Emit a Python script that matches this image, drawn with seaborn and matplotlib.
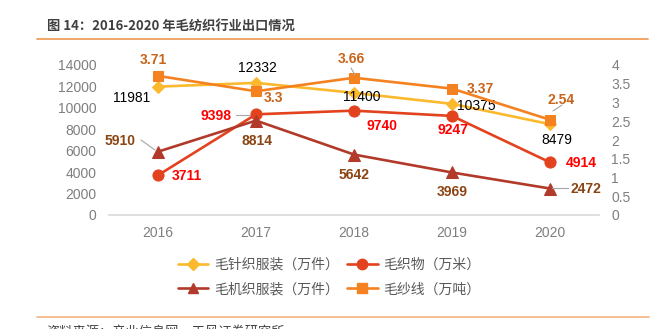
import matplotlib
matplotlib.use("Agg")
import matplotlib.pyplot as plt
from matplotlib.lines import Line2D
import seaborn as sns
import pandas as pd

years = [2016, 2017, 2018, 2019, 2020]
knit_apparel = [11981, 12332, 11400, 10375, 8479]      # 毛针织服装（万件）
wool_fabric = [3711, 9398, 9740, 9247, 4914]           # 毛织物（万米）
woven_apparel = [5910, 8814, 5642, 3969, 2472]         # 毛机织服装（万件）
wool_yarn = [3.71, 3.3, 3.66, 3.37, 2.54]              # 毛纱线（万吨）

names = ["毛针织服装（万件）", "毛织物（万米）", "毛机织服装（万件）", "毛纱线（万吨）"]
left_ticks = [0, 2000, 4000, 6000, 8000, 10000, 12000, 14000]
right_ticks = [0, 0.5, 1, 1.5, 2, 2.5, 3, 3.5, 4]
right_labels = ["0", "0.5", "1", "1.5", "2", "2.5", "3", "3.5", "4"]

sns.set_theme(style="white")
plt.rcParams["font.family"] = ["Liberation Sans", "Noto Sans CJK SC", "DejaVu Sans"]

W, H = 663, 329
fig = plt.figure(figsize=(W / 100, H / 100), dpi=100)
ax = fig.add_axes([109 / W, 1 - 215 / H, (599 - 109) / W, 150 / H])
ax2 = ax.twinx()

c_knit, c_fab, c_wov, c_yarn = "#FBB92E", "#E2431E", "#B23A2A", "#F58220"
lw = 1.9

df = pd.DataFrame({"year": years, "knit": knit_apparel, "fab": wool_fabric,
                   "wov": woven_apparel, "yarn": wool_yarn})

sns.lineplot(data=df, x="year", y="knit", ax=ax, color=c_knit, marker="D", markersize=6.5,
             markeredgecolor=c_knit, linewidth=lw, label=names[0], legend=False)
sns.lineplot(data=df, x="year", y="fab", ax=ax, color=c_fab, marker="o", markersize=8,
             markeredgecolor=c_fab, linewidth=lw, label=names[1], legend=False)
sns.lineplot(data=df, x="year", y="wov", ax=ax, color=c_wov, marker="^", markersize=8,
             markeredgecolor=c_wov, linewidth=lw, label=names[2], legend=False)
sns.lineplot(data=df, x="year", y="yarn", ax=ax2, color=c_yarn, marker="s", markersize=7.5,
             markeredgecolor=c_yarn, linewidth=lw, label=names[3], legend=False)

ax.set_xlim(2015.5, 2020.5)
ax.set_ylim(0, 14000)
ax2.set_ylim(0, 4)
ax.set_xticks(years)
ax.set_xticklabels([str(y) for y in years])
ax.set_yticks(left_ticks)
ax.set_yticklabels([str(t) for t in left_ticks])
ax2.set_yticks(right_ticks)
ax2.set_yticklabels(right_labels)
ax.set_xlabel("")
ax.set_ylabel("")
ax2.set_ylabel("")

grey = "#7F7F7F"
ax.tick_params(axis="x", length=0, pad=8, labelsize=10, labelcolor=grey)
ax.tick_params(axis="y", length=0, pad=9, labelsize=10, labelcolor=grey)
ax2.tick_params(axis="y", length=0, pad=9, labelsize=10, labelcolor=grey)
for a in (ax, ax2):
    for s in ("top", "left", "right"):
        a.spines[s].set_visible(False)
    a.spines["bottom"].set_visible(False)
    a.grid(False)
ax.spines["bottom"].set_visible(True)
ax.spines["bottom"].set_color("#D9D9D9")
ax.spines["bottom"].set_linewidth(1.2)
ax.patch.set_visible(False)

def lab(a, x, y, txt, dx, dy, color, bold, leader=None):
    a.annotate(txt, xy=(x, y), xytext=(dx, dy), textcoords="offset pixels",
               ha="center", va="center", fontsize=10, color=color,
               fontweight="bold" if bold else "normal", zorder=10,
               annotation_clip=False)

knit_off = [(-26, -11), (1, 15), (8, -4), (24, -2), (7, -16)]
yarn_off = [(-5, 16), (17, -7), (-3, 19), (28, 0), (11, 20)]
fab_off = [(29, -1), (-40, -2), (28, -15), (1, -14), (31, -1)]
wov_off = [(-38, 11), (1, -20), (0, -20), (0, -20), (36, 0)]

for i, yr in enumerate(years):
    lab(ax, yr, knit_apparel[i], f"{knit_apparel[i]}", *knit_off[i], "#000000", False)
    lab(ax2, yr, wool_yarn[i], f"{wool_yarn[i]:g}", *yarn_off[i], "#C8651B", True)
    lab(ax, yr, wool_fabric[i], f"{wool_fabric[i]}", *fab_off[i], "#FF0000", True)
    lab(ax, yr, woven_apparel[i], f"{woven_apparel[i]}", *wov_off[i], "#8B4513", True)

# leader lines (figure pixel coords)
def leader(x0, y0, x1, y1):
    fig.add_artist(Line2D([x0 / W, x1 / W], [1 - y0 / H, 1 - y1 / H],
                          color="#A6A6A6", lw=0.8, zorder=9))
leader(141, 140, 155, 150)
leader(236, 115, 250, 115)
leader(351, 68, 355, 75)
leader(553, 111, 562, 105)
leader(552, 188, 568, 188)

# legend
handles = [
    Line2D([], [], color=c_knit, marker="D", markersize=6, lw=lw),
    Line2D([], [], color=c_wov, marker="^", markersize=7.5, lw=lw),
    Line2D([], [], color=c_fab, marker="o", markersize=7.5, lw=lw),
    Line2D([], [], color=c_yarn, marker="s", markersize=7, lw=lw),
]
labels = [names[0], names[2], names[1], names[3]]
leg = fig.legend(handles, labels, ncol=2, loc="center", bbox_to_anchor=(329 / W, 1 - 277 / H),
                 frameon=False, fontsize=10, handlelength=2.2, handletextpad=0.4,
                 columnspacing=0.6, labelspacing=0.75,
                 prop={"family": ["Noto Sans CJK SC"], "size": 10})
for t in leg.get_texts():
    t.set_color("#595959")

# title & decorations
fig.text(47 / W, 1 - 27 / H, "图 14：2016-2020 年毛纺织行业出口情况", fontsize=9.5,
         fontweight="bold", color="#404040", va="center", ha="left",
         family=["Noto Sans CJK SC", "DejaVu Sans"])
fig.add_artist(Line2D([37 / W, 648 / W], [1 - 38.5 / H] * 2, color="#EE9E5C", lw=1.3))
fig.add_artist(Line2D([37 / W, 649 / W], [1 - 316.5 / H] * 2, color="#F5B98A", lw=1.3))
fig.text(46 / W, 1 - 333 / H, "资料来源：产业信息网，天风证券研究所", fontsize=9.5,
         color="#404040", va="center", ha="left", family=["Noto Sans CJK SC", "DejaVu Sans"])

fig.savefig("out.png", dpi=100)
